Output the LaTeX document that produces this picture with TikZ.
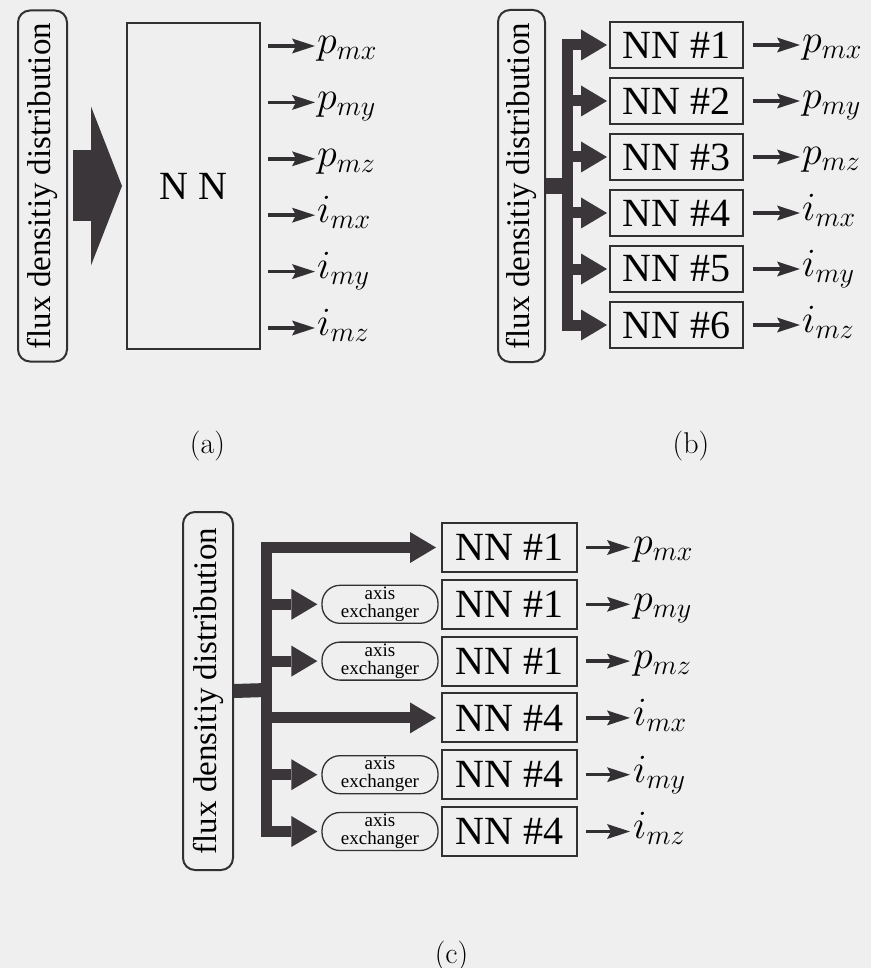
\documentclass[tikz,border=0pt]{standalone}
\usepackage{fix-cm}
\usepackage{graphicx}
\usepackage{fontspec}
\setmainfont{Liberation Serif}
\newfontfamily\lmr{Latin Modern Roman}
\usetikzlibrary{arrows.meta}

\newlength{\du}
\setlength{\du}{10pt}

\definecolor{papercolor}{rgb}{0.937255, 0.937255, 0.937255}
\definecolor{inkcolor}{rgb}{0.200000, 0.188235, 0.200000}
\definecolor{fatcolor}{rgb}{0.227451, 0.211765, 0.227451}

\tikzset{
  fluxpill/.style={draw=inkcolor, line width=2pt, rounded corners=12pt, inner sep=0pt,
    font=\rmfamily\fontsize{33}{33}\selectfont},
  nnbox/.style={draw=inkcolor, line width=2pt, inner sep=0pt,
    font=\rmfamily\fontsize{40}{40}\selectfont},
  axispill/.style={draw=inkcolor, line width=1.3pt, rounded corners=18pt, inner sep=0pt,
    minimum width=11.600000\du, minimum height=3.800000\du, align=center,
    font=\rmfamily\fontsize{19}{18}\selectfont},
  outlabel/.style={anchor=west, inner sep=0pt, font=\fontsize{40}{40}\selectfont},
  outarrow/.style={draw=inkcolor, line width=3.5pt,
    -{Stealth[length=23pt,width=15pt,inset=4pt,line width=0pt]}},
  fatline/.style={draw=fatcolor, line join=miter},
  fatarrow/.style={fatline, line width=11pt,
    -{Triangle[length=26pt,width=31pt,line width=0pt]}},
  caption/.style={font=\lmr\fontsize{30}{30}\selectfont}
}

\begin{document}
\begin{tikzpicture}
\pgftransformxscale{1.000000}
\pgftransformyscale{-1.000000}
\useasboundingbox (0.000000\du,0.000000\du) rectangle (87.100000\du,96.800000\du);
\fill[papercolor] (0.000000\du,0.000000\du) rectangle (87.100000\du,96.800000\du);

% (a) one network
\node[fluxpill, minimum width=4.900000\du, minimum height=35.100000\du] (flxa) at (4.250000\du,18.600000\du){\rotatebox{90}{flux densitiy distribution}};
\node[nnbox, minimum width=13.300000\du, minimum height=32.600000\du] (nna) at (19.350000\du,18.600000\du){N N};
\draw[fatline, line width=71pt, -{Triangle[length=31pt,width=159pt,line width=0pt]}, shorten <=5pt, shorten >=4pt] (flxa.east) -- (nna.west);
\node[outlabel] (la1) at (31.700000\du,4.600000\du){$\vphantom{i_{my}p}p_{mx}$};
\node[outlabel] (la2) at (31.700000\du,10.240000\du){$\vphantom{i_{my}p}p_{my}$};
\node[outlabel] (la3) at (31.700000\du,15.880000\du){$\vphantom{i_{my}p}p_{mz}$};
\node[outlabel] (la4) at (31.700000\du,21.520000\du){$\vphantom{i_{my}p}i_{mx}$};
\node[outlabel] (la5) at (31.700000\du,27.160000\du){$\vphantom{i_{my}p}i_{my}$};
\node[outlabel] (la6) at (31.700000\du,32.800000\du){$\vphantom{i_{my}p}i_{mz}$};
\draw[outarrow, shorten <=7pt, shorten >=2pt] (nna.east |- la1.west) -- (la1.west);
\draw[outarrow, shorten <=7pt, shorten >=2pt] (nna.east |- la2.west) -- (la2.west);
\draw[outarrow, shorten <=7pt, shorten >=2pt] (nna.east |- la3.west) -- (la3.west);
\draw[outarrow, shorten <=7pt, shorten >=2pt] (nna.east |- la4.west) -- (la4.west);
\draw[outarrow, shorten <=7pt, shorten >=2pt] (nna.east |- la5.west) -- (la5.west);
\draw[outarrow, shorten <=7pt, shorten >=2pt] (nna.east |- la6.west) -- (la6.west);
\node[caption] (capa) at (20.750000\du,44.600000\du){(a)};

% (b) six networks
\node[fluxpill, minimum width=4.700000\du, minimum height=35.200000\du] (flxb) at (52.150000\du,18.600000\du){\rotatebox{90}{flux densitiy distribution}};
\coordinate (jb) at (56.700000\du,18.600000\du);
\node[nnbox, minimum width=13.300000\du, minimum height=4.600000\du] (nnb1) at (67.650000\du,4.500000\du){NN \#1};
\node[nnbox, minimum width=13.300000\du, minimum height=4.600000\du] (nnb2) at (67.650000\du,10.100000\du){NN \#2};
\node[nnbox, minimum width=13.300000\du, minimum height=4.600000\du] (nnb3) at (67.650000\du,15.700000\du){NN \#3};
\node[nnbox, minimum width=13.300000\du, minimum height=4.600000\du] (nnb4) at (67.650000\du,21.300000\du){NN \#4};
\node[nnbox, minimum width=13.300000\du, minimum height=4.600000\du] (nnb5) at (67.650000\du,26.900000\du){NN \#5};
\node[nnbox, minimum width=13.300000\du, minimum height=4.600000\du] (nnb6) at (67.650000\du,32.500000\du){NN \#6};
\draw[fatline, line width=16pt] (flxb.east) -- (jb);
\draw[fatarrow, shorten >=2pt] (jb |- nnb6.west) -- (jb |- nnb1.west) -- (nnb1.west);
\draw[fatarrow, shorten >=2pt] (jb |- nnb1.west) -- (jb |- nnb6.west) -- (nnb6.west);
\draw[fatarrow, shorten >=2pt] (jb |- nnb2.west) -- (nnb2.west);
\draw[fatarrow, shorten >=2pt] (jb |- nnb3.west) -- (nnb3.west);
\draw[fatarrow, shorten >=2pt] (jb |- nnb4.west) -- (nnb4.west);
\draw[fatarrow, shorten >=2pt] (jb |- nnb5.west) -- (nnb5.west);
\node[outlabel] (lb1) at (80.200000\du,4.500000\du){$\vphantom{i_{my}p}p_{mx}$};
\node[outlabel] (lb2) at (80.200000\du,10.100000\du){$\vphantom{i_{my}p}p_{my}$};
\node[outlabel] (lb3) at (80.200000\du,15.700000\du){$\vphantom{i_{my}p}p_{mz}$};
\node[outlabel] (lb4) at (80.200000\du,21.300000\du){$\vphantom{i_{my}p}i_{mx}$};
\node[outlabel] (lb5) at (80.200000\du,26.900000\du){$\vphantom{i_{my}p}i_{my}$};
\node[outlabel] (lb6) at (80.200000\du,32.500000\du){$\vphantom{i_{my}p}i_{mz}$};
\draw[outarrow, shorten <=9pt, shorten >=2pt] (nnb1.east) -- (lb1.west);
\draw[outarrow, shorten <=9pt, shorten >=2pt] (nnb2.east) -- (lb2.west);
\draw[outarrow, shorten <=9pt, shorten >=2pt] (nnb3.east) -- (lb3.west);
\draw[outarrow, shorten <=9pt, shorten >=2pt] (nnb4.east) -- (lb4.west);
\draw[outarrow, shorten <=9pt, shorten >=2pt] (nnb5.east) -- (lb5.west);
\draw[outarrow, shorten <=9pt, shorten >=2pt] (nnb6.east) -- (lb6.west);
\node[caption] (capb) at (69.100000\du,44.600000\du){(b)};

% (c) two networks with axis exchangers
\node[fluxpill, minimum width=5.000000\du, minimum height=35.800000\du] (flxc) at (20.800000\du,69.100000\du){\rotatebox{90}{flux densitiy distribution}};
\coordinate (jc) at (26.650000\du,69.000000\du);
\node[nnbox, minimum width=13.500000\du, minimum height=4.900000\du] (nnc1) at (50.950000\du,54.750000\du){NN \#1};
\node[nnbox, minimum width=13.500000\du, minimum height=4.900000\du] (nnc2) at (50.950000\du,60.430000\du){NN \#1};
\node[nnbox, minimum width=13.500000\du, minimum height=4.900000\du] (nnc3) at (50.950000\du,66.110000\du){NN \#1};
\node[nnbox, minimum width=13.500000\du, minimum height=4.900000\du] (nnc4) at (50.950000\du,71.790000\du){NN \#4};
\node[nnbox, minimum width=13.500000\du, minimum height=4.900000\du] (nnc5) at (50.950000\du,77.470000\du){NN \#4};
\node[nnbox, minimum width=13.500000\du, minimum height=4.900000\du] (nnc6) at (50.950000\du,83.150000\du){NN \#4};
\node[axispill] (axc2) at (38.000000\du,60.430000\du){axis\\exchanger};
\node[axispill] (axc3) at (38.000000\du,66.110000\du){axis\\exchanger};
\node[axispill] (axc5) at (38.000000\du,77.470000\du){axis\\exchanger};
\node[axispill] (axc6) at (38.000000\du,83.150000\du){axis\\exchanger};
\draw[fatline, line width=14pt] (flxc.east) -- (jc);
\draw[fatarrow, shorten >=5pt] (jc |- axc6.west) -- (jc |- nnc1.west) -- (nnc1.west);
\draw[fatarrow, shorten >=4pt] (jc |- nnc1.west) -- (jc |- axc6.west) -- (axc6.west);
\draw[fatarrow, shorten >=4pt] (jc |- axc2.west) -- (axc2.west);
\draw[fatarrow, shorten >=4pt] (jc |- axc3.west) -- (axc3.west);
\draw[fatarrow, shorten >=5pt] (jc |- nnc4.west) -- (nnc4.west);
\draw[fatarrow, shorten >=4pt] (jc |- axc5.west) -- (axc5.west);
\node[outlabel] (lc1) at (63.300000\du,54.750000\du){$\vphantom{i_{my}p}p_{mx}$};
\node[outlabel] (lc2) at (63.300000\du,60.430000\du){$\vphantom{i_{my}p}p_{my}$};
\node[outlabel] (lc3) at (63.300000\du,66.110000\du){$\vphantom{i_{my}p}p_{mz}$};
\node[outlabel] (lc4) at (63.300000\du,71.790000\du){$\vphantom{i_{my}p}i_{mx}$};
\node[outlabel] (lc5) at (63.300000\du,77.470000\du){$\vphantom{i_{my}p}i_{my}$};
\node[outlabel] (lc6) at (63.300000\du,83.150000\du){$\vphantom{i_{my}p}i_{mz}$};
\draw[outarrow, shorten <=8pt, shorten >=3pt] (nnc1.east) -- (lc1.west);
\draw[outarrow, shorten <=8pt, shorten >=3pt] (nnc2.east) -- (lc2.west);
\draw[outarrow, shorten <=8pt, shorten >=3pt] (nnc3.east) -- (lc3.west);
\draw[outarrow, shorten <=8pt, shorten >=3pt] (nnc4.east) -- (lc4.west);
\draw[outarrow, shorten <=8pt, shorten >=3pt] (nnc5.east) -- (lc5.west);
\draw[outarrow, shorten <=8pt, shorten >=3pt] (nnc6.east) -- (lc6.west);
\node[caption] (capc) at (45.150000\du,95.600000\du){(c)};
\end{tikzpicture}
\end{document}
